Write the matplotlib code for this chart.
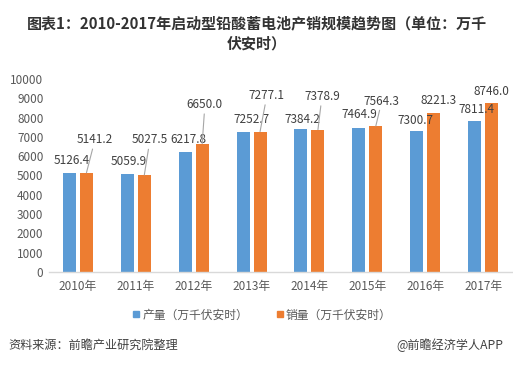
import matplotlib
matplotlib.use("Agg")
import matplotlib.pyplot as plt
import numpy as np
from matplotlib.lines import Line2D

plt.rcParams['font.family'] = ['Noto Sans CJK SC', 'DejaVu Sans']

years = ['2010年', '2011年', '2012年', '2013年', '2014年', '2015年', '2016年', '2017年']
production = [5126.4, 5059.9, 6217.8, 7252.7, 7384.2, 7464.9, 7300.7, 7811.4]
sales = [5141.2, 5027.5, 6650.0, 7277.1, 7378.9, 7564.3, 8221.3, 8746.0]
yticks = [0, 1000, 2000, 3000, 4000, 5000, 6000, 7000, 8000, 9000, 10000]
series_names = ['产量（万千伏安时）', '销量（万千伏安时）']

# label offsets in pixels (dx, dy up) relative to bar tops, and leader flag
prod_off = [(2.5, 13), (1.6, 12.5), (2.7, 12), (8.8, 13), (1, 10), (1, 13), (-1, 11), (2, 12)]
sales_off = [(8.5, 33), (5.6, 35), (2.7, 39), (6.8, 36), (4, 33), (6, 25), (5, 13), (0, 11.5)]
sales_leader = [True, True, True, True, True, True, False, False]

blue = '#5B9BD5'
orange = '#ED7D31'
txt = '#404040'

fig = plt.figure(figsize=(5.13, 3.65), dpi=100)
ax = fig.add_axes([49/513, 1-272/365, 463/513, (272-79)/365])

x = np.arange(len(years))
w = 0.225
off = 0.147
ax.bar(x - off, production, w, color=blue)
ax.bar(x + off, sales, w, color=orange)

ax.set_xlim(-0.5, len(years) - 0.5)
ax.set_ylim(0, 10000)
ax.set_yticks(yticks)
ax.set_yticklabels([str(t) for t in yticks], fontsize=8.5, color='#595959')
ax.set_xticks(x)
ax.set_xticklabels(years, fontsize=8.5, color='#595959')
ax.tick_params(length=0, pad=6)
ax.tick_params(axis='y', pad=4)
for s in ['top', 'right', 'left']:
    ax.spines[s].set_visible(False)
ax.spines['bottom'].set_color('#d9d9d9')
ax.spines['bottom'].set_linewidth(1)

for i in range(len(years)):
    dx, dy = prod_off[i]
    ax.annotate(f'{production[i]:.1f}', xy=(x[i] - off, production[i]),
                xytext=(dx, dy), textcoords='offset pixels',
                ha='center', va='center', fontsize=8.5, color=txt)
    dx, dy = sales_off[i]
    ap = dict(arrowstyle='-', color='#a6a6a6', lw=0.8, shrinkA=0, shrinkB=0) if sales_leader[i] else None
    ax.annotate(f'{sales[i]:.1f}', xy=(x[i] + off, sales[i]),
                xytext=(dx, dy), textcoords='offset pixels',
                ha='center', va='center', fontsize=8.5, color=txt,
                arrowprops=ap)

fig.text(0.5, 1-23/365, '图表1：2010-2017年启动型铅酸蓄电池产销规模趋势图（单位：万千',
         ha='center', va='center', fontsize=10.8, fontweight='bold', color='#333333')
fig.text(0.5, 1-43/365, '伏安时）', ha='center', va='center', fontsize=10.8,
         fontweight='bold', color='#333333')

handles = [Line2D([], [], marker='s', linestyle='', color=blue, markersize=4),
           Line2D([], [], marker='s', linestyle='', color=orange, markersize=4)]
leg = fig.legend(handles, series_names, loc='center', bbox_to_anchor=(0.51, 1-315/365),
                 ncol=2, frameon=False, fontsize=8.5, handletextpad=0.1,
                 columnspacing=2.3, handlelength=0.8)
for t in leg.get_texts():
    t.set_color('#595959')

fig.text(8/513, 1-345/365, '资料来源：前瞻产业研究院整理', ha='left', va='center',
         fontsize=8.7, style='italic', color='#404040')
fig.text(503/513, 1-345/365, '@前瞻经济学人APP', ha='right', va='center',
         fontsize=8.7, color='#404040')

fig.savefig('out.png', dpi=100)
